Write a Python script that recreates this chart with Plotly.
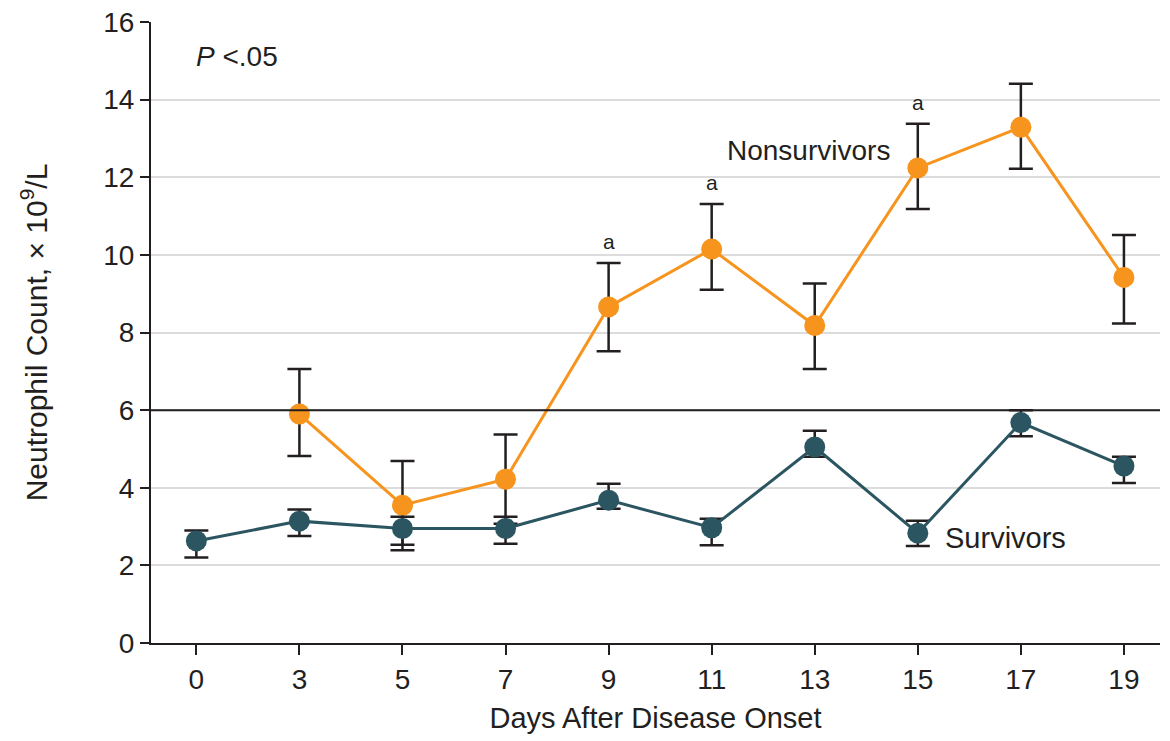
import plotly.graph_objects as go

days = ["0", "3", "5", "7", "9", "11", "13", "15", "17", "19"]

nonsurvivors = [None, 5.90, 3.55, 4.22, 8.66, 10.15, 8.18, 12.24, 13.29, 9.42]
nonsurv_err_plus = [None, 1.16, 1.14, 1.15, 1.13, 1.16, 1.08, 1.14, 1.12, 1.09]
nonsurv_err_minus = [None, 1.08, 1.16, 1.15, 1.14, 1.05, 1.12, 1.06, 1.07, 1.19]

survivors = [2.63, 3.14, 2.95, 2.95, 3.68, 2.97, 5.05, 2.83, 5.68, 4.56]
surv_err_plus = [0.27, 0.30, 0.30, 0.30, 0.42, 0.23, 0.42, 0.32, 0.32, 0.24]
surv_err_minus = [0.43, 0.38, 0.42, 0.39, 0.22, 0.45, 0.25, 0.33, 0.35, 0.44]

significant_days = ["9", "11", "15"]
threshold = 6

ORANGE = "#F7941D"
TEAL = "#2B5561"
INK = "#231F20"
FONT = "Liberation Sans, Arial, sans-serif"

fig = go.Figure()

fig.add_trace(go.Scatter(
    x=days, y=nonsurvivors, mode="lines+markers", name="Nonsurvivors",
    line=dict(color=ORANGE, width=3),
    marker=dict(color=ORANGE, size=21),
    error_y=dict(type="data", symmetric=False, array=nonsurv_err_plus,
                 arrayminus=nonsurv_err_minus, color=INK, thickness=2.5, width=12),
    connectgaps=False,
))

fig.add_trace(go.Scatter(
    x=days, y=survivors, mode="lines+markers", name="Survivors",
    line=dict(color=TEAL, width=3),
    marker=dict(color=TEAL, size=21),
    error_y=dict(type="data", symmetric=False, array=surv_err_plus,
                 arrayminus=surv_err_minus, color=INK, thickness=2.5, width=12),
))

fig.add_shape(type="line", xref="paper", x0=0, x1=1, yref="y", y0=threshold, y1=threshold,
              line=dict(color=INK, width=2))

# significance markers (x given as category index)
for d in significant_days:
    i = days.index(d)
    fig.add_annotation(x=i, y=nonsurvivors[i] + nonsurv_err_plus[i] + 0.55, text="a",
                       showarrow=False, font=dict(family=FONT, size=21, color=INK))

fig.add_annotation(x=-0.02, y=15.1, xanchor="left", text="<i>P</i> <.05", showarrow=False,
                   font=dict(family=FONT, size=28, color=INK))
fig.add_annotation(x=5.94, y=12.7, text="Nonsurvivors", showarrow=False,
                   font=dict(family=FONT, size=28, color=INK))
fig.add_annotation(x=7.85, y=2.7, text="Survivors", showarrow=False,
                   font=dict(family=FONT, size=29, color=INK))

fig.update_layout(
    width=1162, height=733,
    margin=dict(l=143, r=10, t=14, b=98),
    plot_bgcolor="white", paper_bgcolor="white",
    showlegend=False,
    font=dict(family=FONT, size=28, color=INK),
)

fig.update_xaxes(
    type="category", range=[-0.44, 9.35], automargin=False,
    showline=True, linecolor=INK, linewidth=2,
    ticks="outside", ticklen=10, tickwidth=2, tickcolor=INK,
    showgrid=False, zeroline=False,
    title=dict(text="Days After Disease Onset", standoff=14, font=dict(size=29)),
    tickfont=dict(size=28),
)
fig.update_yaxes(
    range=[0, 16], dtick=2, automargin=False, ticklabeloverflow="allow",
    showline=True, linecolor=INK, linewidth=2,
    ticks="outside", ticklen=9, tickwidth=2, tickcolor=INK,
    showgrid=True, gridcolor="#DCDCDC", gridwidth=2, zeroline=False,
    title=dict(text="Neutrophil Count, × 10<sup>9</sup>/L", standoff=47, font=dict(size=30)),
    tickfont=dict(size=28),
)

fig.write_html("out.html")
